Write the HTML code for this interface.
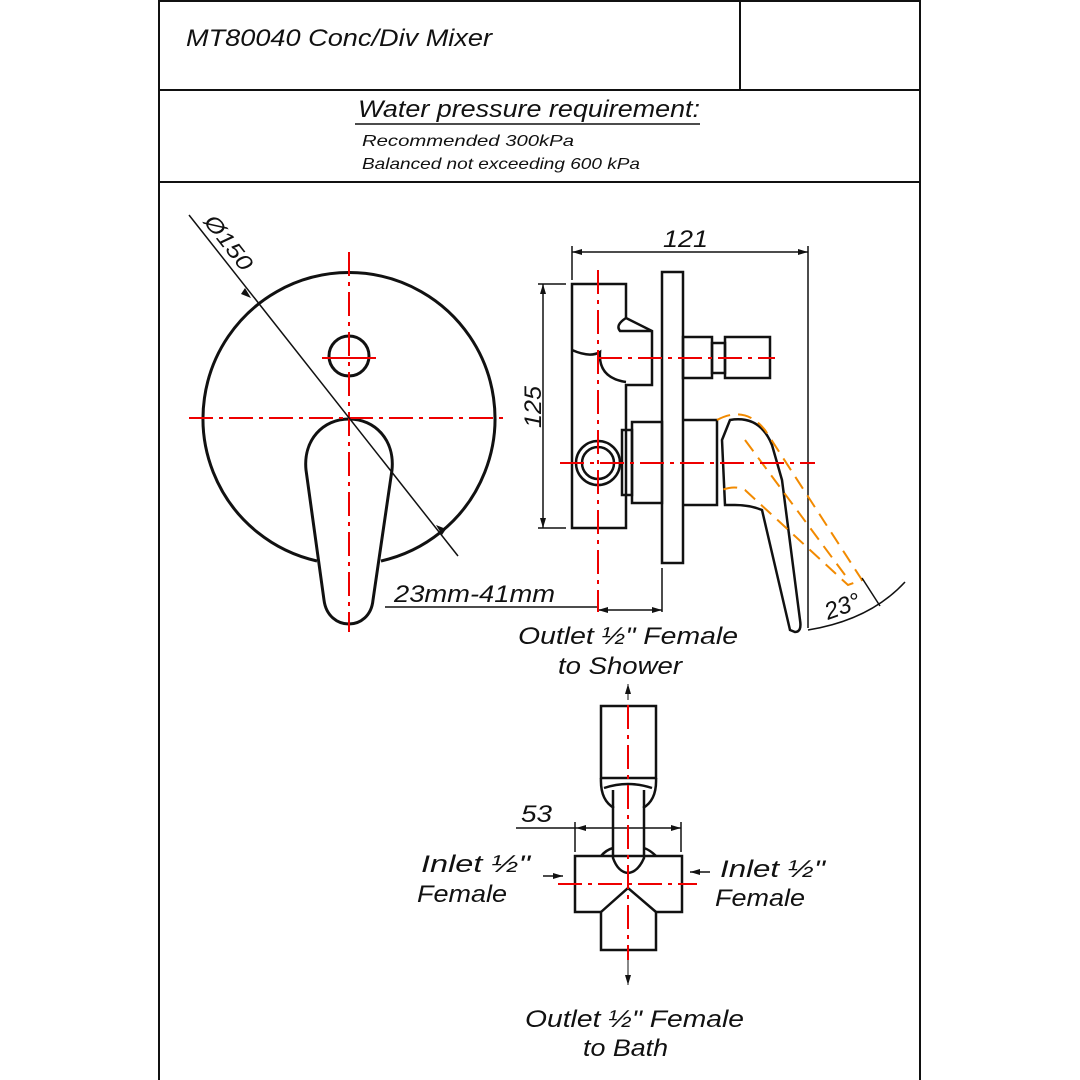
<!DOCTYPE html>
<html><head><meta charset="utf-8"><style>
html,body{margin:0;padding:0;background:#fff}
svg{display:block}
text{font-family:"Liberation Sans",sans-serif;font-style:italic;fill:#111}
</style></head><body>
<svg width="1080" height="1080" viewBox="0 0 1080 1080" xmlns="http://www.w3.org/2000/svg">
<defs>
<marker id="a" markerWidth="10" markerHeight="6" refX="10" refY="3" orient="auto" markerUnits="userSpaceOnUse"><path d="M0,0 L10,3 L0,6 z" fill="#111"/></marker>
<marker id="b" markerWidth="10" markerHeight="6" refX="0" refY="3" orient="auto" markerUnits="userSpaceOnUse"><path d="M10,0 L0,3 L10,6 z" fill="#111"/></marker>
</defs>
<rect width="1080" height="1080" fill="#fff"/>
<g stroke="#111" stroke-width="2" fill="none">
<line x1="159" y1="0" x2="159" y2="1080"/>
<line x1="920" y1="0" x2="920" y2="1080"/>
<line x1="159" y1="1" x2="920" y2="1"/>
<line x1="159" y1="90" x2="920" y2="90"/>
<line x1="159" y1="182" x2="920" y2="182"/>
<line x1="740" y1="0" x2="740" y2="90"/>
</g>
<text x="186" y="46" font-size="24" textLength="306" lengthAdjust="spacingAndGlyphs">MT80040 Conc/Div Mixer</text>
<text x="358" y="117" font-size="24" textLength="342" lengthAdjust="spacingAndGlyphs">Water pressure requirement:</text>
<line x1="355" y1="124" x2="700" y2="124" stroke="#111" stroke-width="1.5"/>
<text x="362" y="146" font-size="16" textLength="212" lengthAdjust="spacingAndGlyphs">Recommended 300kPa</text>
<text x="362" y="169" font-size="16" textLength="278" lengthAdjust="spacingAndGlyphs">Balanced not exceeding 600 kPa</text>

<!-- FRONT VIEW -->
<g stroke="#111" stroke-width="3" fill="none">
<path d="M317,561 A146,146 0 1 1 381,561"/>
<circle cx="349" cy="356" r="20"/>
<path d="M349,419 C375,419 395,440 392,470 L373,600 C370,632 328,632 324,600 L306,470 C303,440 323,419 349,419 Z"/>
</g>
<g stroke="#e00" stroke-width="2" fill="none" stroke-dasharray="24,6,4,6">
<line x1="349" y1="252" x2="349" y2="632"/>
<line x1="189" y1="418" x2="503" y2="418"/>
<line x1="322" y1="358" x2="376" y2="358" stroke-dasharray="none"/>
</g>
<line x1="189" y1="215" x2="458" y2="556" stroke="#111" stroke-width="1.5"/>
<path d="M245,288 l6,10 l-10,-4z M442,535 l-6,-10 l10,4z" fill="#111"/>
<text x="0" y="0" font-size="22" transform="translate(203,222) rotate(52)" textLength="64" lengthAdjust="spacingAndGlyphs">Ø150</text>

<!-- SIDE VIEW -->
<g stroke="#111" stroke-width="1.5" fill="none">
<line x1="572" y1="252" x2="808" y2="252" marker-start="url(#b)" marker-end="url(#a)"/>
<line x1="572" y1="246" x2="572" y2="280"/>
<line x1="808" y1="246" x2="808" y2="628"/>
<line x1="543" y1="284" x2="543" y2="528" marker-start="url(#b)" marker-end="url(#a)"/>
<line x1="538" y1="284" x2="566" y2="284"/>
<line x1="538" y1="528" x2="566" y2="528"/>
<line x1="598" y1="610" x2="662" y2="610" marker-start="url(#b)" marker-end="url(#a)"/>
<line x1="662" y1="568" x2="662" y2="612"/>
<line x1="385" y1="607" x2="598" y2="607"/>
<path d="M808,630 Q870,620 905,582"/>
</g>
<text x="663" y="247" font-size="24" textLength="45" lengthAdjust="spacingAndGlyphs">121</text>
<text x="0" y="0" font-size="24" transform="translate(541,428) rotate(-90)" textLength="42" lengthAdjust="spacingAndGlyphs">125</text>
<text x="394" y="602" font-size="24" textLength="161" lengthAdjust="spacingAndGlyphs">23mm-41mm</text>
<text x="0" y="0" font-size="24" transform="translate(828,620) rotate(-20)">23°</text>
<g stroke="#111" stroke-width="2.5" fill="none">
<path d="M572,284 H626 V318 L652,331 V385 H626 V528 H572 Z"/>
<path d="M572,350 Q590,358 600,352 Q598,378 626,382"/>
<path d="M626,318 Q615,325 620,331 H652"/>
<rect x="662" y="272" width="21" height="291"/>
<rect x="683" y="337" width="29" height="41"/>
<rect x="712" y="343" width="13" height="30"/>
<rect x="725" y="337" width="45" height="41"/>
<rect x="632" y="422" width="30" height="81"/>
<rect x="622" y="430" width="10" height="65"/>
<path d="M683,420 H717 V505 H683"/>
<circle cx="598" cy="463" r="22"/>
<circle cx="598" cy="463" r="16"/>
<path d="M730,420 Q760,415 772,445 L782,480 L800,620 Q802,632 795,632 L790,630 L762,510 Q750,505 735,505 L725,505 L722,440 Z"/>
</g>
<g stroke="#f28a00" stroke-width="2" fill="none" stroke-dasharray="14,8">
<path d="M717,420 Q745,405 765,430 L862,580 L848,585 L745,490 Q735,485 722,490"/>
<path d="M745,440 L845,575"/>
</g>
<line x1="862" y1="578" x2="880" y2="606" stroke="#111" stroke-width="1.5"/>
<g stroke="#e00" stroke-width="2" fill="none" stroke-dasharray="24,6,4,6">
<line x1="598" y1="270" x2="598" y2="612"/>
<line x1="598" y1="358" x2="775" y2="358"/>
<line x1="560" y1="463" x2="815" y2="463"/>
</g>

<!-- BOTTOM VIEW -->
<text x="518" y="644" font-size="24" textLength="220" lengthAdjust="spacingAndGlyphs">Outlet ½" Female</text>
<text x="558" y="674" font-size="24" textLength="124" lengthAdjust="spacingAndGlyphs">to Shower</text>
<line x1="628" y1="700" x2="628" y2="684" stroke="#111" stroke-width="1" marker-end="url(#a)"/>
<g stroke="#111" stroke-width="2.5" fill="none">
<rect x="601" y="706" width="55" height="72"/>
<path d="M601,778 Q600,800 614,808 M656,778 Q657,800 643,808"/>
<path d="M604,788 Q628,780 652,788"/>
<path d="M613,790 V858 Q618,872 628,873 Q638,872 644,858 V790"/>
<path d="M601,856 Q606,850 613,848 M656,856 Q650,850 644,848"/>
<path d="M575,856 H682 V912 H656 V950 H601 V912 H575 Z"/>
<path d="M601,912 L628,888 L656,912"/>
</g>
<g stroke="#111" stroke-width="1.5" fill="none">
<line x1="516" y1="828" x2="576" y2="828"/>
<line x1="576" y1="828" x2="681" y2="828" marker-start="url(#b)" marker-end="url(#a)"/>
<line x1="575" y1="822" x2="575" y2="852"/>
<line x1="681" y1="822" x2="681" y2="852"/>
<line x1="543" y1="876" x2="563" y2="876" marker-end="url(#a)"/>
<line x1="710" y1="872" x2="690" y2="872" marker-end="url(#a)"/>
</g>
<text x="521" y="822" font-size="24" textLength="31" lengthAdjust="spacingAndGlyphs">53</text>
<text x="421" y="872" font-size="24" textLength="109" lengthAdjust="spacingAndGlyphs">Inlet ½"</text>
<text x="417" y="902" font-size="24" textLength="90" lengthAdjust="spacingAndGlyphs">Female</text>
<text x="720" y="877" font-size="24" textLength="105" lengthAdjust="spacingAndGlyphs">Inlet ½"</text>
<text x="715" y="906" font-size="24" textLength="90" lengthAdjust="spacingAndGlyphs">Female</text>
<g stroke="#e00" stroke-width="2" fill="none" stroke-dasharray="24,6,4,6">
<line x1="628" y1="705" x2="628" y2="960"/>
<line x1="558" y1="884" x2="697" y2="884"/>
</g>
<line x1="628" y1="960" x2="628" y2="985" stroke="#111" stroke-width="1" marker-end="url(#a)"/>
<text x="525" y="1027" font-size="24" textLength="219" lengthAdjust="spacingAndGlyphs">Outlet ½" Female</text>
<text x="583" y="1056" font-size="24" textLength="85" lengthAdjust="spacingAndGlyphs">to Bath</text>
</svg>
</body></html>
